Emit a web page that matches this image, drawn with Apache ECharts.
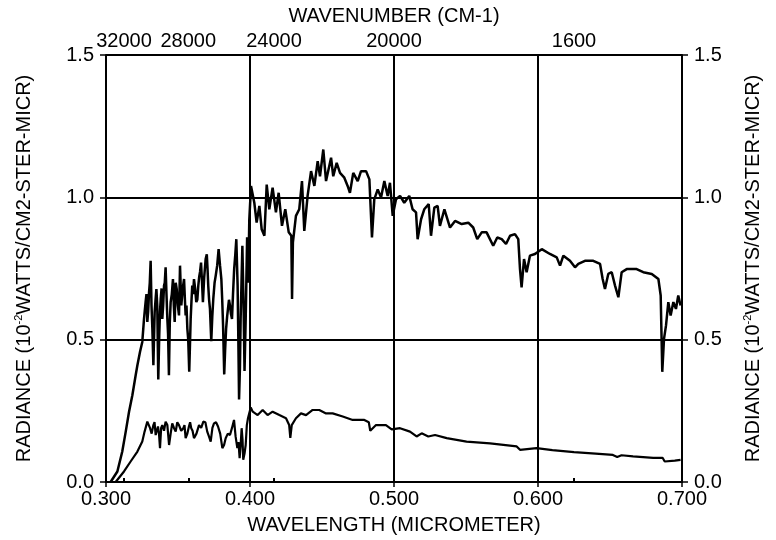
<!DOCTYPE html>
<html>
<head>
<meta charset="utf-8">
<script src="https://cdn.jsdelivr.net/npm/echarts@6/dist/echarts.min.js"></script>
<style>
html,body{margin:0;padding:0;background:#fff;}
#chart{width:776px;height:540px;}
</style>
</head>
<body>
<div id="chart"></div>
<script>
// Wavenumber ticks on the top axis, placed at their wavelengths
const topTickWavelengths = [0.3125, 0.35714, 0.41667, 0.5, 0.625];
const topTickLabels = ['32000', '28000', '24000', '20000', '1600'];

// Upper curve (wavelength in micrometer, radiance)
const upperWl = [
0.3032,0.3079,0.3113,0.3137,0.3160,0.3183,0.3206,0.3218,0.3236,0.3252,
0.3264,0.3275,0.3287,0.3299,0.3310,0.3322,0.3329,0.3338,0.3350,0.3356,
0.3363,0.3370,0.3380,0.3391,0.3403,0.3414,0.3426,0.3437,0.3449,0.3465,
0.3477,0.3491,0.3507,0.3514,0.3523,0.3542,0.3553,0.3565,0.3578,0.3588,
0.3599,0.3611,0.3627,0.3641,0.3653,0.3660,0.3673,0.3692,0.3700,0.3710,
0.3722,0.3731,0.3745,0.3762,0.3782,0.3801,0.3813,0.3821,0.3834,0.3847,
0.3861,0.3875,0.3890,0.3905,0.3914,0.3924,0.3935,0.3947,0.3955,0.3962,
0.3970,0.3980,0.3988,0.3995,0.4007,0.4030,0.4046,0.4065,0.4081,0.4100,
0.4116,0.4134,0.4157,0.4180,0.4199,0.4222,0.4245,0.4269,0.4287,0.4292,
0.4298,0.4319,0.4342,0.4361,0.4377,0.4400,0.4424,0.4447,0.4470,0.4486,
0.4509,0.4528,0.4563,0.4578,0.4602,0.4625,0.4655,0.4678,0.4694,0.4717,
0.4748,0.4771,0.4806,0.4829,0.4847,0.4863,0.4887,0.4910,0.4933,0.4956,
0.4972,0.4991,0.5014,0.5042,0.5071,0.5106,0.5129,0.5153,0.5164,0.5188,
0.5210,0.5241,0.5257,0.5280,0.5303,0.5319,0.5350,0.5389,0.5424,0.5470,
0.5516,0.5550,0.5578,0.5609,0.5643,0.5689,0.5717,0.5748,0.5778,0.5806,
0.5840,0.5863,0.5875,0.5886,0.5903,0.5921,0.5944,0.5979,0.6026,0.6083,
0.6130,0.6153,0.6176,0.6222,0.6257,0.6280,0.6326,0.6384,0.6431,0.6449,
0.6465,0.6488,0.6512,0.6535,0.6558,0.6581,0.6616,0.6685,0.6731,0.6790,
0.6836,0.6852,0.6863,0.6875,0.6889,0.6905,0.6921,0.6940,0.6958,0.6974,
0.6990,
// finer structure in the dense UV band
0.3269,0.3281,0.3293,0.3304,0.3316,0.3344,0.3375,0.3386,0.3397,0.3408,
0.3420,0.3431,0.3443,0.3457,0.3471,0.3484,0.3499,0.3533,0.3548,0.3559,
0.3571,0.3583,0.3594,0.3605,0.3619,0.3634,0.3647,0.3667,0.3682,0.3705,
0.3716,0.3738,0.3754,0.3772,0.3792,0.3807,0.3827,0.3841,0.3854,0.3868,
0.3882,0.3898,0.3919,0.3930,0.3941
];
const upperVal = [
0.000,0.037,0.107,0.177,0.247,0.305,0.375,0.410,0.457,0.492,
0.573,0.632,0.562,0.667,0.777,0.538,0.410,0.597,0.678,0.620,
0.360,0.520,0.643,0.573,0.690,0.754,0.573,0.375,0.632,0.713,
0.562,0.678,0.585,0.760,0.620,0.713,0.585,0.538,0.387,0.573,
0.690,0.713,0.632,0.690,0.738,0.771,0.632,0.783,0.800,0.690,
0.608,0.495,0.643,0.725,0.818,0.713,0.550,0.378,0.538,0.608,
0.620,0.573,0.748,0.853,0.690,0.290,0.573,0.830,0.632,0.390,
0.570,0.860,0.700,0.920,1.040,0.981,0.911,0.970,0.888,0.865,
1.045,0.958,1.034,0.947,1.016,0.900,0.958,0.877,0.865,0.643,
0.842,0.935,0.958,1.057,0.882,1.005,1.092,1.040,1.127,1.074,
1.168,1.057,1.139,1.074,1.121,1.086,1.069,1.040,1.016,1.086,
1.057,1.092,1.092,1.063,0.859,0.993,1.028,0.999,1.057,1.005,
1.051,0.935,0.993,1.005,0.981,1.005,0.958,0.947,0.853,0.923,
0.958,0.976,0.865,0.964,0.970,0.900,0.958,0.894,0.917,0.906,
0.911,0.894,0.853,0.877,0.877,0.830,0.859,0.853,0.836,0.865,
0.871,0.853,0.748,0.684,0.783,0.737,0.795,0.801,0.818,0.801,
0.789,0.760,0.795,0.777,0.754,0.766,0.777,0.777,0.766,0.713,
0.678,0.731,0.737,0.690,0.649,0.737,0.748,0.748,0.737,0.731,
0.713,0.655,0.387,0.503,0.550,0.632,0.585,0.632,0.608,0.655,
0.620,
0.600,0.660,0.600,0.700,0.620,0.640,0.600,0.680,0.620,0.700,
0.660,0.520,0.560,0.660,0.620,0.700,0.620,0.680,0.640,0.620,
0.500,0.480,0.640,0.660,0.680,0.640,0.720,0.700,0.720,0.750,
0.640,0.580,0.700,0.760,0.760,0.640,0.460,0.580,0.640,0.590,
0.660,0.800,0.500,0.400,0.700
];

// Lower curve
const lowerWl = [
0.3067,0.3125,0.3171,0.3218,0.3252,0.3268,0.3287,0.3306,0.3329,0.3345,
0.3361,0.3375,0.3391,0.3414,0.3438,0.3460,0.3484,0.3507,0.3537,0.3553,
0.3576,0.3592,0.3611,0.3646,0.3676,0.3703,0.3727,0.3750,0.3778,0.3808,
0.3831,0.3861,0.3889,0.3912,0.3928,0.3942,0.3953,0.3970,0.3986,0.4005,
0.4019,0.4053,0.4088,0.4122,0.4157,0.4204,0.4250,0.4272,0.4280,0.4290,
0.4319,0.4354,0.4389,0.4435,0.4481,0.4528,0.4574,0.4644,0.4713,0.4794,
0.4825,0.4835,0.4875,0.4944,0.4984,0.5042,0.5111,0.5157,0.5192,0.5238,
0.5285,0.5366,0.5504,0.5667,0.5852,0.5875,0.5990,0.6100,0.6250,0.6400,
0.6520,0.6550,0.6580,0.6660,0.6800,0.6865,0.6880,0.6950,0.6990,
// finer structure in the dense UV band
0.3317,0.3337,0.3353,0.3368,0.3383,0.3403,0.3426,0.3449,0.3472,0.3495,
0.3522,0.3545,0.3565,0.3584,0.3601,0.3628,0.3661,0.3690,0.3715,0.3739,
0.3764,0.3793,0.3820,0.3846,0.3875,0.3900,0.3920,0.3935,0.3948,0.3962,
0.3978
];
const lowerVal = [
0.000,0.037,0.072,0.107,0.142,0.177,0.212,0.189,0.200,0.165,
0.195,0.119,0.200,0.212,0.130,0.206,0.177,0.200,0.189,0.154,
0.195,0.189,0.154,0.200,0.212,0.177,0.142,0.206,0.195,0.119,
0.154,0.165,0.218,0.119,0.084,0.189,0.078,0.130,0.224,0.262,
0.247,0.235,0.253,0.235,0.247,0.235,0.224,0.200,0.155,0.200,
0.224,0.241,0.235,0.253,0.253,0.241,0.241,0.230,0.218,0.218,
0.210,0.180,0.200,0.200,0.185,0.189,0.177,0.160,0.171,0.160,
0.165,0.154,0.142,0.136,0.125,0.113,0.119,0.112,0.105,0.100,
0.095,0.088,0.094,0.090,0.085,0.085,0.072,0.075,0.078,
0.170,0.210,0.180,0.170,0.190,0.180,0.200,0.170,0.190,0.210,
0.180,0.200,0.170,0.210,0.180,0.170,0.190,0.210,0.160,0.190,
0.210,0.170,0.130,0.170,0.190,0.160,0.140,0.130,0.150,0.100,
0.200
];

const FONT = 'Liberation Sans, Arial, Helvetica, sans-serif';
const black = '#000';
const zipSorted = (a, b) => a.map((v, i) => [v, b[i]]).sort((p, q) => p[0] - q[0]);

const yName = 'RADIANCE (10{sup|-2}WATTS/CM2-STER-MICR)';
const yNameStyle = {
  color: black, fontSize: 20, fontFamily: FONT, lineHeight: 22,
  rich: { sup: { fontSize: 11, fontFamily: FONT, color: black, verticalAlign: 'top', lineHeight: 22 } }
};

function yAxisCfg(pos, gap) {
  return {
    type: 'value', position: pos, min: 0, max: 1.5, interval: 0.5,
    name: yName, nameLocation: 'middle', nameGap: gap, nameRotate: 90,
    nameTextStyle: yNameStyle,
    axisLine: { show: true, lineStyle: { color: black, width: 2 } },
    axisTick: { show: true, length: 6, lineStyle: { color: black, width: 1.5 } },
    axisLabel: { color: black, fontSize: 20, fontFamily: FONT, margin: 12,
      formatter: v => v.toFixed(1) },
    splitLine: { show: pos === 'left', lineStyle: { color: black, width: 2 } }
  };
}

const chart = echarts.init(document.getElementById('chart'), null, { renderer: 'canvas' });
chart.setOption({
  animation: false,
  backgroundColor: '#fff',
  grid: { left: 106, right: 94, top: 55, bottom: 56 },
  xAxis: [
    {
      type: 'value', position: 'bottom', min: 0.3, max: 0.7, interval: 0.1,
      name: 'WAVELENGTH (MICROMETER)', nameLocation: 'middle', nameGap: 33,
      nameTextStyle: { color: black, fontSize: 20, fontFamily: FONT },
      axisLine: { show: true, lineStyle: { color: black, width: 2 } },
      axisTick: { show: true, length: 5, lineStyle: { color: black, width: 1.5 } },
      axisLabel: { color: black, fontSize: 20, fontFamily: FONT, margin: 7,
        formatter: v => v.toFixed(3) },
      splitLine: { show: true, lineStyle: { color: black, width: 2 } }
    },
    {
      type: 'value', position: 'top', min: 0.3, max: 0.7,
      name: 'WAVENUMBER (CM-1)', nameLocation: 'middle', nameGap: 27,
      nameTextStyle: { color: black, fontSize: 20, fontFamily: FONT },
      axisLine: { show: true, lineStyle: { color: black, width: 2 } },
      axisTick: { show: true, length: 4, customValues: topTickWavelengths,
        lineStyle: { color: black, width: 2 } },
      axisLabel: { color: black, fontSize: 20, fontFamily: FONT, margin: 4,
        customValues: topTickWavelengths,
        formatter: v => {
          let best = 0;
          topTickWavelengths.forEach((w, i) => { if (Math.abs(w - v) < Math.abs(topTickWavelengths[best] - v)) best = i; });
          return topTickLabels[best];
        } },
      splitLine: { show: false }
    }
  ],
  yAxis: [yAxisCfg('left', 71), yAxisCfg('right', 60)],
  series: [
    { type: 'line', xAxisIndex: 0, yAxisIndex: 0, data: zipSorted(upperWl, upperVal),
      showSymbol: false, symbol: 'none', lineStyle: { color: black, width: 2.5 }, z: 5 },
    { type: 'line', xAxisIndex: 0, yAxisIndex: 0, data: zipSorted(lowerWl, lowerVal),
      showSymbol: false, symbol: 'none', lineStyle: { color: black, width: 2.2 }, z: 5 }
  ]
});
</script>
</body>
</html>
